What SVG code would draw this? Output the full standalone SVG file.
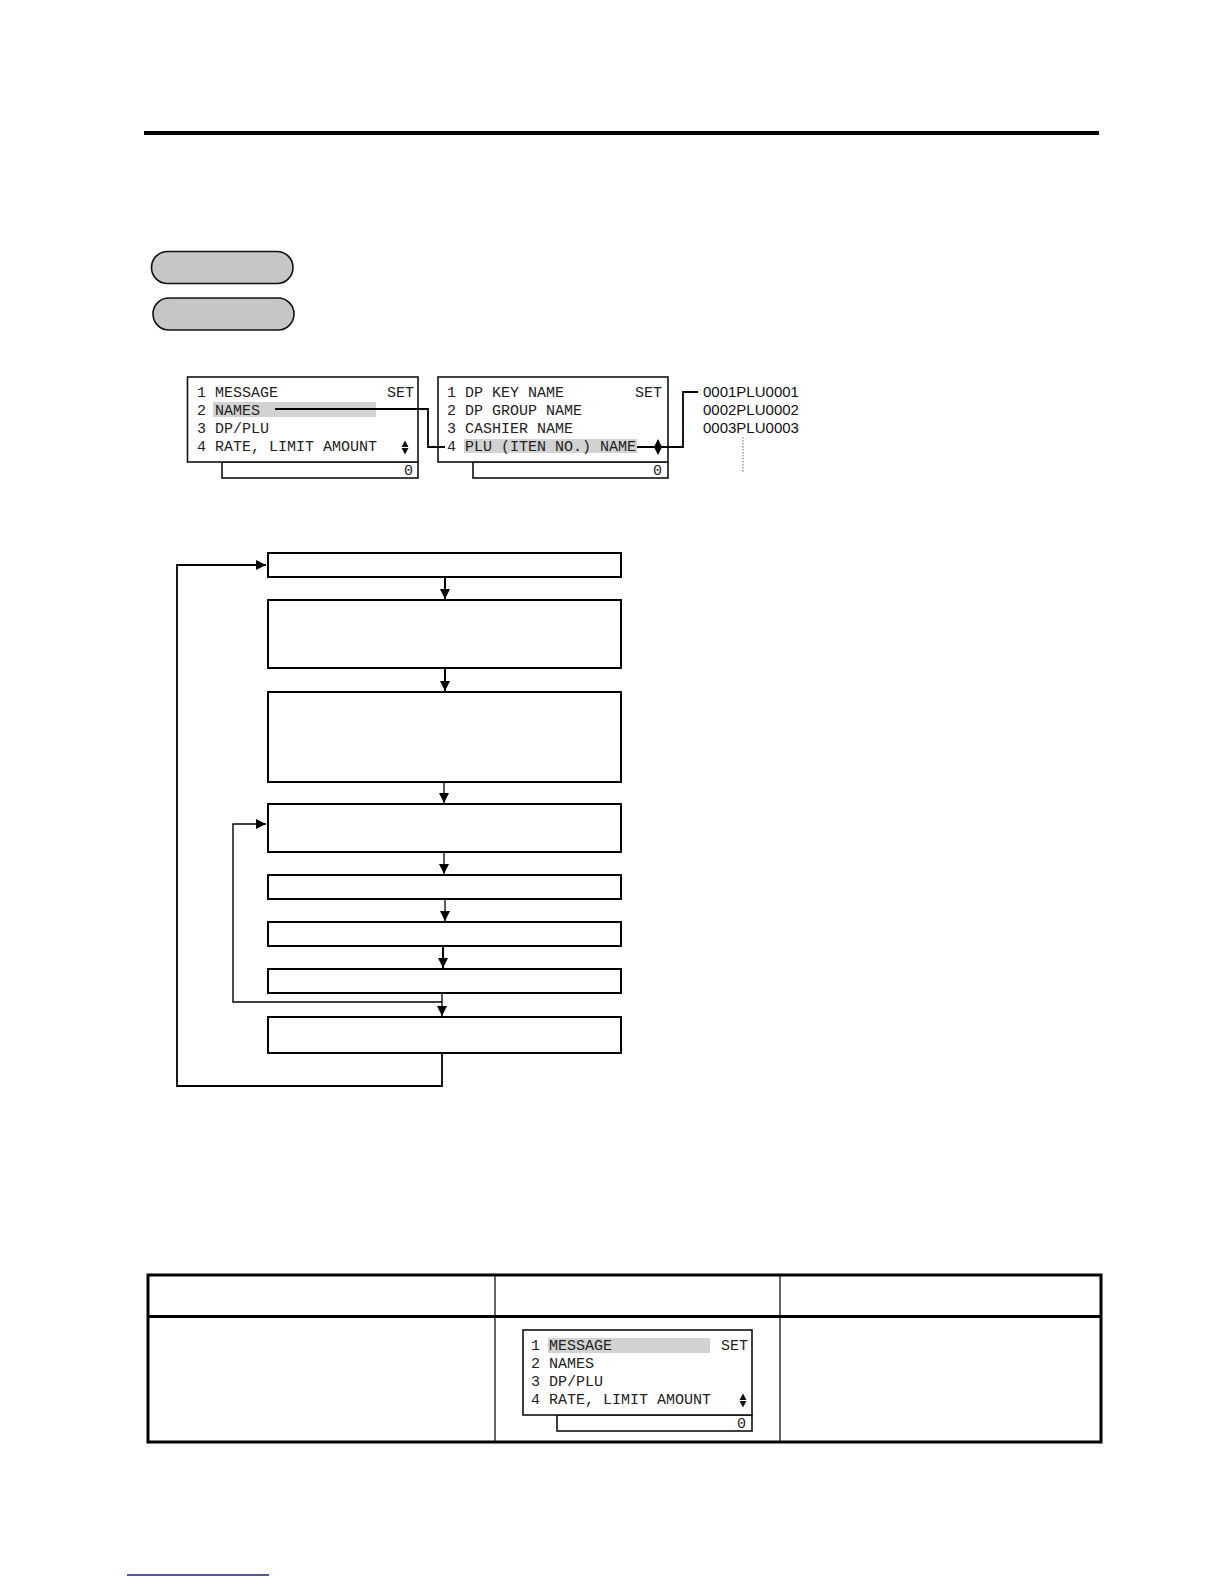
<svg xmlns="http://www.w3.org/2000/svg" width="1224" height="1584" viewBox="0 0 1224 1584">
<defs>
<style>
.scr{fill:#fff;stroke:#111;stroke-width:1.6}
.mono{font-family:"Liberation Mono","Courier New",monospace;font-size:15px;fill:#222}
.sans{font-family:"Liberation Sans",Arial,sans-serif;font-size:15px;fill:#111}
.hl{fill:#d2d2d2}
.box{fill:#fff;stroke:#000;stroke-width:2}
.pill{fill:#c6c6c6;stroke:#111;stroke-width:1.6}
.ln{fill:none;stroke:#000}
</style>
<marker id="ah" viewBox="0 0 10 10" refX="10" refY="5" markerWidth="10" markerHeight="10" markerUnits="userSpaceOnUse" orient="auto">
<path d="M0,0 L10,5 L0,10 z" fill="#000"/>
</marker>
</defs>
<rect width="1224" height="1584" fill="#fff"/>

<!-- top rule -->
<rect x="144" y="131" width="955" height="4" fill="#000"/>

<!-- pills -->
<g id="pill1"><rect class="pill" x="151.5" y="251.5" width="141.5" height="32" rx="16"/></g>
<g id="pill2"><rect class="pill" x="153" y="298" width="141" height="32" rx="16"/></g>

<!-- screen 1 -->
<g id="screen1">
<rect class="scr" x="222" y="462" width="196" height="16"/>
<rect class="scr" x="187.5" y="377" width="230.5" height="85"/>
<rect class="hl" x="213" y="402" width="163" height="15"/>
<text class="mono" x="197" y="397">1 MESSAGE</text>
<text class="mono" x="414" y="397" text-anchor="end">SET</text>
<text class="mono" x="197" y="415">2 NAMES</text>
<text class="mono" x="197" y="433">3 DP/PLU</text>
<text class="mono" x="197" y="451">4 RATE, LIMIT AMOUNT</text>
<path d="M401.5,447 L405,440.5 L408.5,447 z M401.5,448 L405,454.5 L408.5,448 z" fill="#111"/>
<text class="mono" x="413" y="475" text-anchor="end">0</text>
</g>

<!-- screen 2 -->
<g id="screen2">
<rect class="scr" x="473" y="462" width="195" height="16"/>
<rect class="scr" x="438" y="377" width="230" height="85"/>
<rect class="hl" x="464" y="439" width="173" height="14"/>
<text class="mono" x="447" y="397">1 DP KEY NAME</text>
<text class="mono" x="662" y="397" text-anchor="end">SET</text>
<text class="mono" x="447" y="415">2 DP GROUP NAME</text>
<text class="mono" x="447" y="433">3 CASHIER NAME</text>
<text class="mono" x="447" y="451">4 PLU (ITEN NO.) NAME</text>
<text class="mono" x="662" y="475" text-anchor="end">0</text>
</g>

<!-- PLU list -->
<g id="plulist">
<text class="sans" x="703" y="397">0001PLU0001</text>
<text class="sans" x="703" y="415">0002PLU0002</text>
<text class="sans" x="703" y="433">0003PLU0003</text>
<line x1="743" y1="437" x2="743" y2="473" stroke="#666" stroke-width="1" stroke-dasharray="1.5,1.5"/>
</g>

<!-- flowchart boxes -->
<g id="b1"><rect class="box" x="268" y="553" width="353" height="24"/></g>
<g id="b2"><rect class="box" x="268" y="600" width="353" height="68"/></g>
<g id="b3"><rect class="box" x="268" y="692" width="353" height="90"/></g>
<g id="b4"><rect class="box" x="268" y="804" width="353" height="48"/></g>
<g id="b5"><rect class="box" x="268" y="875" width="353" height="24"/></g>
<g id="b6"><rect class="box" x="268" y="922" width="353" height="24"/></g>
<g id="b7"><rect class="box" x="268" y="969" width="353" height="24"/></g>
<g id="b8"><rect class="box" x="268" y="1017" width="353" height="36"/></g>

<!-- connectors -->
<g id="connectors">
<path class="ln" d="M275,409 H428 V447 H445" stroke-width="1.8"/>
<path class="ln" d="M637,447 H683 V392 H698" stroke-width="1.8"/>
<path d="M654,447 L658,439 L662,447 L658,455 z" fill="#000"/>
<path class="ln" d="M445,577 V599" stroke-width="2" marker-end="url(#ah)"/>
<path class="ln" d="M445,668 V691" stroke-width="2" marker-end="url(#ah)"/>
<path class="ln" d="M444,782 V803" stroke-width="1.3" marker-end="url(#ah)"/>
<path class="ln" d="M444,852 V874" stroke-width="1.3" marker-end="url(#ah)"/>
<path class="ln" d="M445,899 V921" stroke-width="1.3" marker-end="url(#ah)"/>
<path class="ln" d="M443,946 V968" stroke-width="2" marker-end="url(#ah)"/>
<path class="ln" d="M442,993 V1016" stroke-width="1.3" marker-end="url(#ah)"/>
<path class="ln" d="M442,1002 H233 V824 H266" stroke-width="1.4" marker-end="url(#ah)"/>
<path class="ln" d="M442,1053 V1086 H177 V565 H266" stroke-width="1.8" marker-end="url(#ah)"/>
</g>

<!-- table -->
<g id="table">
<line x1="495" y1="1275" x2="495" y2="1442" stroke="#000" stroke-width="1.2"/>
<line x1="780" y1="1275" x2="780" y2="1442" stroke="#000" stroke-width="1.2"/>
<line x1="148" y1="1316.5" x2="1101" y2="1316.5" stroke="#000" stroke-width="3"/>
<rect x="148" y="1275" width="953" height="167" fill="none" stroke="#000" stroke-width="3"/>
</g>

<!-- screen 3 -->
<g id="screen3">
<rect class="scr" x="557" y="1415" width="195" height="16"/>
<rect class="scr" x="523" y="1330" width="229" height="85"/>
<rect class="hl" x="548" y="1338" width="162" height="15"/>
<text class="mono" x="531" y="1350">1 MESSAGE</text>
<text class="mono" x="748" y="1350" text-anchor="end">SET</text>
<text class="mono" x="531" y="1368">2 NAMES</text>
<text class="mono" x="531" y="1386">3 DP/PLU</text>
<text class="mono" x="531" y="1404">4 RATE, LIMIT AMOUNT</text>
<path d="M739.5,1400 L743,1393.5 L746.5,1400 z M739.5,1401 L743,1407.5 L746.5,1401 z" fill="#111"/>
<text class="mono" x="746" y="1428" text-anchor="end">0</text>
</g>

<line x1="127" y1="1575" x2="269" y2="1575" stroke="#1c1c8a" stroke-width="1.5"/>
</svg>
